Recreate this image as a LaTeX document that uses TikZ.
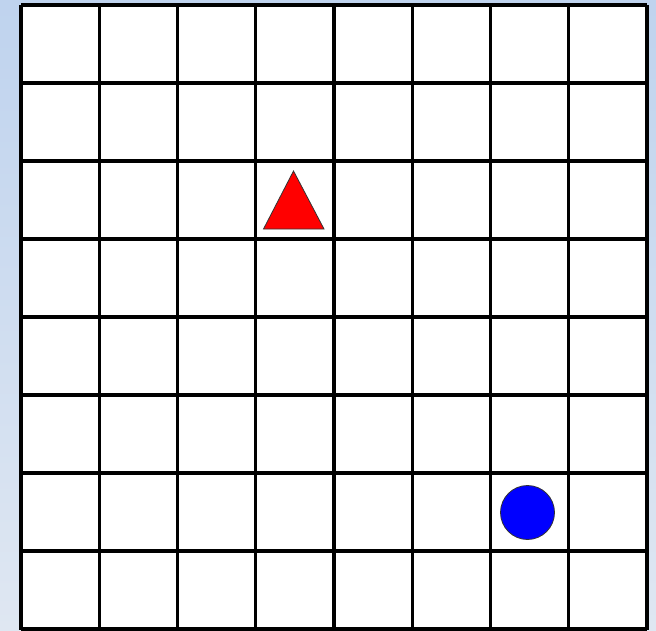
\documentclass[tikz,border=0pt]{standalone}
\usepackage{tikz}
\definecolor{bgtop}{HTML}{BFD3EE}
\definecolor{bgbot}{HTML}{DFE7F2}
\begin{document}
\begin{tikzpicture}[x=0.5pt, y=-0.5pt]
\useasboundingbox (0,0) rectangle (656,630);
\shade[top color=bgtop, bottom color=bgbot] (0,0) rectangle (656,630);
\fill[white] (21,5) rectangle (647,630);

\foreach \i in {0,...,8} \draw[line width=1.6pt] (21+\i*78.25,5) -- (21+\i*78.25,630);
\foreach \j in {0,...,8} \draw[line width=1.6pt] (21,5+\j*78) -- (647,5+\j*78);

\filldraw[fill=red, draw=black!80, thin] (263.5,229) -- (293.5,171) -- (324,229) -- cycle;
\filldraw[fill=blue, draw=black!80, thin] (527.5,512.5) circle (27);
\end{tikzpicture}
\end{document}
